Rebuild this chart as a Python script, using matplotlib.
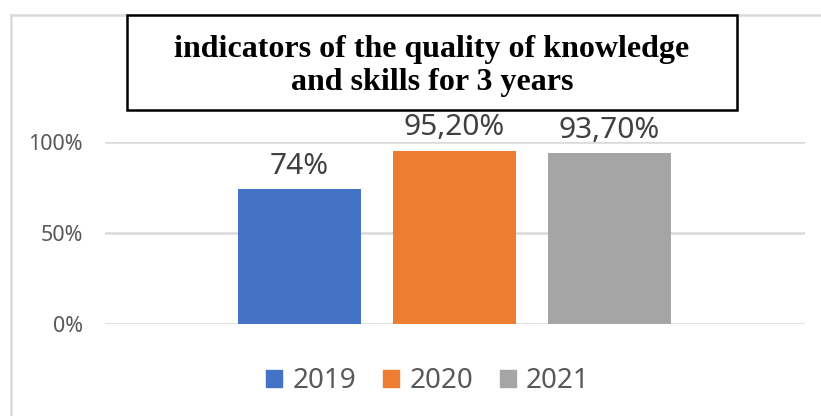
import matplotlib
matplotlib.use('Agg')
from matplotlib import pyplot as plt
from matplotlib.patches import Rectangle
from matplotlib.lines import Line2D
import numpy as np

years = ['2019', '2020', '2021']
values = [0.742, 0.952, 0.937]
labels = ['74%', '95,20%', '93,70%']
colors = ['#4472c4', '#ed7d31', '#a5a5a5']
yticks = [0, 0.5, 1.0]
ytick_labels = ['0%', '50%', '100%']
title = 'indicators of the quality of knowledge\nand skills for 3 years'

W, H = 821, 416
fig = plt.figure(figsize=(W / 100, H / 100), dpi=100)

# outer chart frame (only left and top edges visible)
fig.add_artist(Line2D([11 / W, 11 / W], [0, 1 - 15 / H], transform=fig.transFigure,
                      color='#d9d9d9', lw=1.8))
fig.add_artist(Line2D([11 / W, 1], [1 - 15 / H, 1 - 15 / H], transform=fig.transFigure,
                      color='#d9d9d9', lw=1.8))

ax = fig.add_axes([105 / W, 1 - 324 / H, 700 / W, 182 / H])
x = np.arange(len(years))
bars = ax.bar(x, values, width=0.794, color=colors, zorder=3)
for b, lab in zip(bars, labels):
    ax.annotate(lab, (b.get_x() + b.get_width() / 2, b.get_height()),
                xytext=(0, 6), textcoords='offset points', ha='center', va='bottom',
                fontsize=21.5, color='#404040', family='Noto Sans', annotation_clip=False)

ax.set_xlim(-1.255, 3.261)
ax.set_ylim(0, 1.0)
ax.set_yticks(yticks)
ax.set_yticklabels(ytick_labels, family='Noto Sans', fontsize=15.5, color='#595959')
ax.set_xticks([])
ax.tick_params(axis='y', length=0, pad=16)
for s in ax.spines.values():
    s.set_visible(False)
ax.grid(axis='y', color='#d9d9d9', lw=1.8, zorder=0)
ax.set_axisbelow(True)

# legend
handles = [Rectangle((0, 0), 1, 1, color=c) for c in colors]
leg = fig.legend(handles, years, loc='center', bbox_to_anchor=(428 / W, 1 - 381 / H),
                 ncol=3, frameon=False, handlelength=0.58, handleheight=0.58,
                 handletextpad=0.36, columnspacing=0.97,
                 prop={'family': 'Noto Sans', 'size': 20})
for t in leg.get_texts():
    t.set_color('#595959')

# title box
fig.add_artist(Rectangle((127 / W, 1 - 110 / H), 610 / W, 95 / H, transform=fig.transFigure,
                         facecolor='white', edgecolor='black', lw=1.8, zorder=5))
fig.text(432 / W, 1 - 66 / H, title, ha='center', va='center', fontsize=23,
         fontweight='bold', family='Liberation Serif', linespacing=1.15, zorder=6)

plt.savefig('out.png', dpi=100)
